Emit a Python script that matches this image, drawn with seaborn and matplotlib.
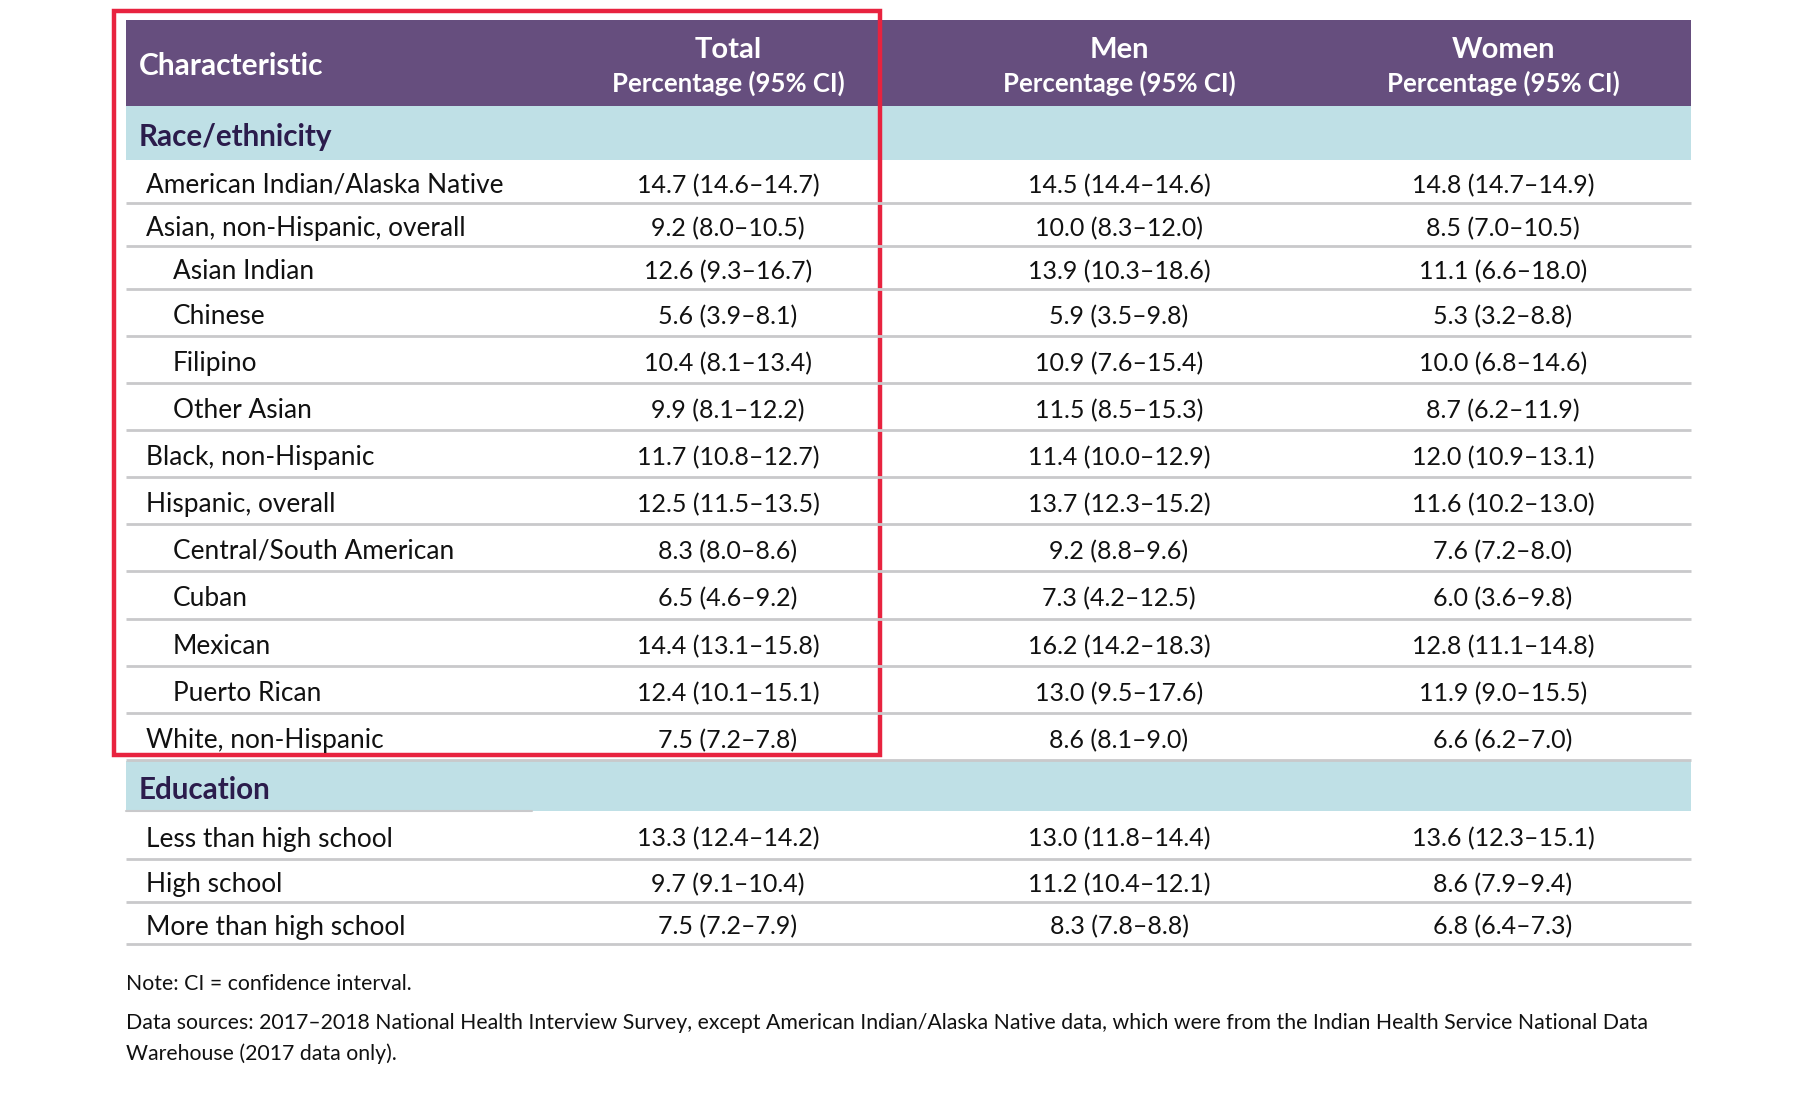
import matplotlib.pyplot as plt
import matplotlib.patches as mpatches
import seaborn as sns

# --- data ---------------------------------------------------------------
columns = ["Total", "Men", "Women"]
col_sub = "Percentage (95% CI)"

race_labels = ["American Indian/Alaska Native", "Asian, non-Hispanic, overall",
               "Asian Indian", "Chinese", "Filipino", "Other Asian",
               "Black, non-Hispanic", "Hispanic, overall",
               "Central/South American", "Cuban", "Mexican", "Puerto Rican",
               "White, non-Hispanic"]
race_sub = [0, 0, 1, 1, 1, 1, 0, 0, 1, 1, 1, 1, 0]
race_total = ["14.7 (14.6–14.7)", "9.2 (8.0–10.5)", "12.6 (9.3–16.7)", "5.6 (3.9–8.1)",
              "10.4 (8.1–13.4)", "9.9 (8.1–12.2)", "11.7 (10.8–12.7)", "12.5 (11.5–13.5)",
              "8.3 (8.0–8.6)", "6.5 (4.6–9.2)", "14.4 (13.1–15.8)", "12.4 (10.1–15.1)",
              "7.5 (7.2–7.8)"]
race_men = ["14.5 (14.4–14.6)", "10.0 (8.3–12.0)", "13.9 (10.3–18.6)", "5.9 (3.5–9.8)",
            "10.9 (7.6–15.4)", "11.5 (8.5–15.3)", "11.4 (10.0–12.9)", "13.7 (12.3–15.2)",
            "9.2 (8.8–9.6)", "7.3 (4.2–12.5)", "16.2 (14.2–18.3)", "13.0 (9.5–17.6)",
            "8.6 (8.1–9.0)"]
race_women = ["14.8 (14.7–14.9)", "8.5 (7.0–10.5)", "11.1 (6.6–18.0)", "5.3 (3.2–8.8)",
              "10.0 (6.8–14.6)", "8.7 (6.2–11.9)", "12.0 (10.9–13.1)", "11.6 (10.2–13.0)",
              "7.6 (7.2–8.0)", "6.0 (3.6–9.8)", "12.8 (11.1–14.8)", "11.9 (9.0–15.5)",
              "6.6 (6.2–7.0)"]

edu_labels = ["Less than high school", "High school", "More than high school"]
edu_sub = [0, 0, 0]
edu_total = ["13.3 (12.4–14.2)", "9.7 (9.1–10.4)", "7.5 (7.2–7.9)"]
edu_men = ["13.0 (11.8–14.4)", "11.2 (10.4–12.1)", "8.3 (7.8–8.8)"]
edu_women = ["13.6 (12.3–15.1)", "8.6 (7.9–9.4)", "6.8 (6.4–7.3)"]

note = "Note: CI = confidence interval."
source = ("Data sources: 2017–2018 National Health Interview Survey, except American Indian/Alaska "
          "Native data, which were from the Indian Health Service National Data\nWarehouse (2017 data only).")

# --- layout (pixels) ----------------------------------------------------
W, H = 1800, 1099
left, right = 126, 1691
col_x = [728, 1119, 1503]
purple = "#664e7e"
band = "#bfe0e6"
rule = "#c9c9cb"
navy = "#2b1c4c"
race_heights = [43, 43, 43, 47, 47, 47, 47, 47, 47, 48, 47, 47, 47]
edu_heights = [48, 43, 42]
label_fs = 18.9
value_fs = 18.0

sns.set_theme(style="white")
plt.rcParams["font.family"] = ["Lato", "DejaVu Sans"]

fig = plt.figure(figsize=(18, 10.99), dpi=100)
ax = fig.add_axes([0, 0, 1, 1])
ax.set_xlim(0, W)
ax.set_ylim(H, 0)
ax.axis("off")

# header
ax.add_patch(mpatches.Rectangle((left, 20), right - left, 86, color=purple, lw=0))
ax.text(139, 66, "Characteristic", color="white", fontsize=21.5, fontweight="bold", va="center")
for x, name in zip(col_x, columns):
    ax.text(x, 50, name, color="white", fontsize=21, fontweight="bold", ha="center", va="center")
    ax.text(x, 83, col_sub, color="white", fontsize=18.5, fontweight="bold",
            ha="center", va="center")


def section(y0, title, band_h, labels, subs, tot, men, wom, heights):
    ax.add_patch(mpatches.Rectangle((left, y0), right - left, band_h, color=band, lw=0))
    ax.text(139, y0 + band_h / 2 + 4, title, color=navy, fontsize=21.3, fontweight="bold",
            va="center")
    y = y0 + band_h
    for lab, sub, a, b, c, h in zip(labels, subs, tot, men, wom, heights):
        yc = y + h / 2 + 4
        ax.text(173 if sub else 146, yc, lab, fontsize=label_fs, color="#111111", va="center")
        for x, v in zip(col_x, (a, b, c)):
            ax.text(x, yc, v, fontsize=value_fs, color="#111111", ha="center", va="center")
        y += h
        ax.plot([left, right], [y, y], color=rule, lw=2, solid_capstyle="butt")
    return y


section(106, "Race/ethnicity", 54, race_labels, race_sub, race_total, race_men, race_women,
        race_heights)
end = section(761, "Education", 50, edu_labels, edu_sub, edu_total, edu_men, edu_women,
              edu_heights)
ax.plot([left, 532], [811, 811], color=rule, lw=1.5)

ax.text(126, 984, note, fontsize=15.3, color="#111111", va="center")
ax.text(126, 1013, source, fontsize=15.3, color="#111111", va="top", linespacing=1.6)

# highlight box
ax.add_patch(mpatches.Rectangle((114, 11), 766, 744, fill=False, edgecolor="#e8233f", lw=3.2))

fig.savefig("out.png", dpi=100)
